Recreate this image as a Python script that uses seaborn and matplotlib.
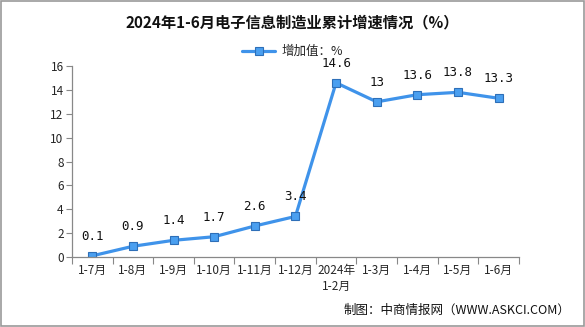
import matplotlib
matplotlib.use("Agg")
import matplotlib.pyplot as plt
import seaborn as sns
import numpy as np
import pandas as pd
from matplotlib.patches import Rectangle

categories = ["1-7月", "1-8月", "1-9月", "1-10月", "1-11月", "1-12月", "2024年\n1-2月", "1-3月", "1-4月", "1-5月", "1-6月"]
values = [0.1, 0.9, 1.4, 1.7, 2.6, 3.4, 14.6, 13, 13.6, 13.8, 13.3]
value_labels = ["0.1", "0.9", "1.4", "1.7", "2.6", "3.4", "14.6", "13", "13.6", "13.8", "13.3"]
yticks = [0, 2, 4, 6, 8, 10, 12, 14, 16]

sns.set_theme(style="white")
plt.rcParams['font.family'] = ['Noto Sans CJK SC', 'DejaVu Sans']

fig = plt.figure(figsize=(5.85, 3.27), dpi=100)
ax = fig.add_axes([0.123, 0.214, 0.764, 0.584])

df = pd.DataFrame({"x": np.arange(len(categories)), "y": values})
line_color = "#3f93ea"
sns.lineplot(data=df, x="x", y="y", ax=ax, color=line_color, lw=2.3,
             marker="s", markersize=6.3, markerfacecolor="#4a9ff0",
             markeredgecolor="#2e6fb8", markeredgewidth=0.8,
             label="增加值：%", legend=False)

for i, (v, t) in enumerate(zip(values, value_labels)):
    ax.annotate(t, (i, v), xytext=(0, 9.5), textcoords="offset points",
                ha="center", va="bottom", fontsize=9,
                family=["DejaVu Sans Mono", "DejaVu Sans"], color="#111111")

ax.set_xlim(-0.5, len(categories) - 0.5)
ax.set_ylim(0, 16)
ax.set_yticks(yticks)
ax.set_yticklabels([str(t) for t in yticks], fontsize=8.5)
ax.set_xticks(np.arange(len(categories)))
ax.set_xticklabels(categories, fontsize=8.5, linespacing=1.3)
ax.set_xticks(np.arange(len(categories) + 1) - 0.5, minor=True)
ax.tick_params(axis="x", which="major", length=0, pad=5)
ax.tick_params(axis="x", which="minor", length=5, color="#888888", width=0.8, direction="out", bottom=True)
ax.tick_params(axis="y", length=4, color="#888888", width=0.8, direction="out", left=True, pad=2)
for lab in ax.get_xticklabels():
    lab.set_verticalalignment("top")
ax.set_xlabel("")
ax.set_ylabel("")
for s in ["top", "right"]:
    ax.spines[s].set_visible(False)
for s in ["left", "bottom"]:
    ax.spines[s].set_color("#888888")
    ax.spines[s].set_linewidth(0.9)

fig.text(0.5, 0.93, "2024年1-6月电子信息制造业累计增速情况（%）", ha="center", va="center",
         fontsize=11, fontweight="bold", color="#111111")

handles, labels = ax.get_legend_handles_labels()
fig.legend(handles, labels, loc="center", bbox_to_anchor=(0.5, 0.842), frameon=False,
           fontsize=9, handlelength=2.6, handletextpad=0.5)

fig.text(0.975, 0.05, "制图：中商情报网（WWW.ASKCI.COM）", ha="right", va="center",
         fontsize=9, color="#111111")

fig.patches.append(Rectangle((0.002, 0.003), 0.996, 0.994, transform=fig.transFigure,
                             fill=False, edgecolor="#999999", lw=1.2))

fig.savefig("out.png", dpi=100)
